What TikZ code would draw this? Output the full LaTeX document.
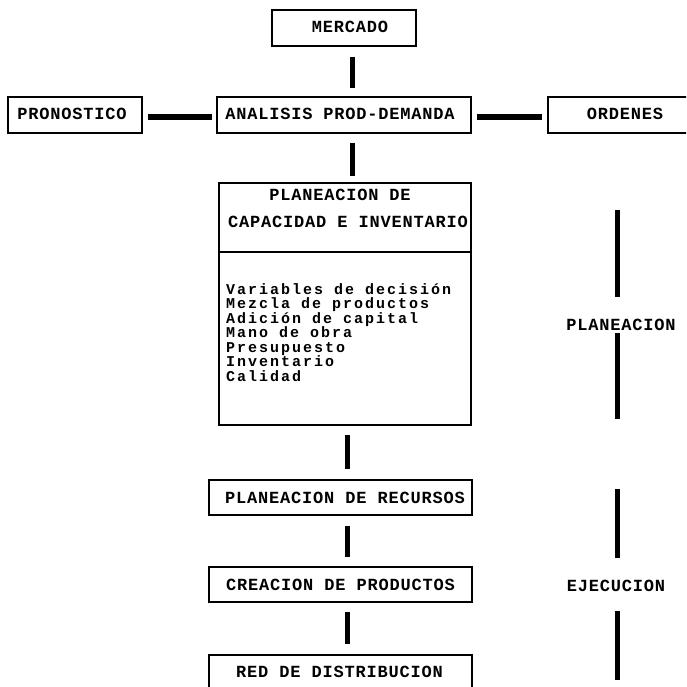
\documentclass[tikz,border=0pt]{standalone}
\usepackage{fontspec}
\newfontfamily\tw{Liberation Mono}[LetterSpace=4.7]
\newfontfamily\twl{Liberation Mono}[LetterSpace=13.3]
\begin{document}
\begin{tikzpicture}[x=1pt,y=-1pt,
  box/.style={draw, line width=1.2pt, rectangle, inner sep=0pt},
  txt/.style={font=\tw\bfseries\fontsize{17}{17}\selectfont, inner sep=0pt, anchor=base},
  lst/.style={font=\twl\bfseries\fontsize{15}{15}\selectfont, inner sep=0pt, anchor=base west},
  vbar/.style={line width=5pt},
  hbar/.style={line width=6pt}]
\useasboundingbox (0,0) rectangle (686,687);
\clip (0,0) rectangle (686,687);
\fill[white] (0,0) rectangle (686,687);

% top row
\node[box, minimum width=144pt, minimum height=36pt] (mercado) at (344,28) {};
\node[txt] (mercadoT) at (350,33) {MERCADO};
\node[box, minimum width=134pt, minimum height=36pt] (pron) at (75,115) {};
\node[txt] (pronT) at (72,120) {PRONOSTICO};
\node[box, minimum width=254pt, minimum height=36pt] (anal) at (344,115) {};
\node[txt] (analT) at (340,120) {ANALISIS PROD-DEMANDA};
\node[box, minimum width=152pt, minimum height=36pt] (ord) at (624,115) {};
\node[txt] (ordT) at (625,120) {ORDENES};

% big planning box
\node[box, minimum width=252pt, minimum height=242pt] (plan) at (345,304) {};
\node[txt] (planT1) at (340,200) {PLANEACION DE};
\node[txt] (planT2) at (348,227) {CAPACIDAD E INVENTARIO};
\coordinate (divy) at (0,252);
\draw[line width=1.2pt] (plan.west |- divy) -- (plan.east |- divy);
\node[lst] (l1) at (226,294) {Variables de decisión};
\node[lst] (l2) at (226,308.5) {Mezcla de productos};
\node[lst] (l3) at (226,323) {Adición de capital};
\node[lst] (l4) at (226,337.5) {Mano de obra};
\node[lst] (l5) at (226,352) {Presupuesto};
\node[lst] (l6) at (226,366.5) {Inventario};
\node[lst] (l7) at (226,381) {Calidad};

% lower boxes
\node[box, minimum width=263pt, minimum height=35pt] (recur) at (340.5,497.5) {};
\node[txt] (recurT) at (345,503) {PLANEACION DE RECURSOS};
\node[box, minimum width=263pt, minimum height=35pt] (crea) at (340.5,584.5) {};
\node[txt] (creaT) at (340.5,590) {CREACION DE PRODUCTOS};
\node[box, minimum width=263pt, minimum height=50pt] (red) at (340.5,680) {};
\node[txt] (redT) at (339.5,677) {RED DE DISTRIBUCION};

% connectors (thick bars with gaps)
\draw[vbar] ([xshift=8pt,yshift=-10pt]mercado.south) -- ([xshift=8pt,yshift=8pt]anal.north);
\draw[vbar] ([xshift=8pt,yshift=-9pt]anal.south) -- ([xshift=7pt,yshift=6pt]plan.north);
\draw[hbar] ([xshift=5pt,yshift=-2pt]pron.east) -- ([xshift=-4pt,yshift=-2pt]anal.west);
\draw[hbar] ([xshift=5pt,yshift=-2pt]anal.east) -- ([xshift=-5pt,yshift=-2pt]ord.west);
\draw[vbar] ([xshift=2pt,yshift=-9pt]plan.south) -- ([xshift=6.5pt,yshift=10pt]recur.north);
\draw[vbar] ([xshift=6.5pt,yshift=-10pt]recur.south) -- ([xshift=6.5pt,yshift=9pt]crea.north);
\draw[vbar] ([xshift=6.5pt,yshift=-9pt]crea.south) -- ([xshift=6.5pt,yshift=10pt]red.north);

% right side phase labels
\node[txt] (planL) at (621,330) {PLANEACION};
\node[txt] (ejeL) at (616,591) {EJECUCION};
\coordinate (pa1) at (617,210);
\coordinate (pa2) at (617,297);
\coordinate (pb1) at (617,333);
\coordinate (pb2) at (617,419);
\coordinate (ea1) at (617,489);
\coordinate (ea2) at (617,558);
\coordinate (eb1) at (617,611);
\coordinate (eb2) at (617,680);
\draw[vbar] (pa1) -- (pa2);
\draw[vbar] (pb1) -- (pb2);
\draw[vbar] (ea1) -- (ea2);
\draw[vbar] (eb1) -- (eb2);
\end{tikzpicture}
\end{document}
